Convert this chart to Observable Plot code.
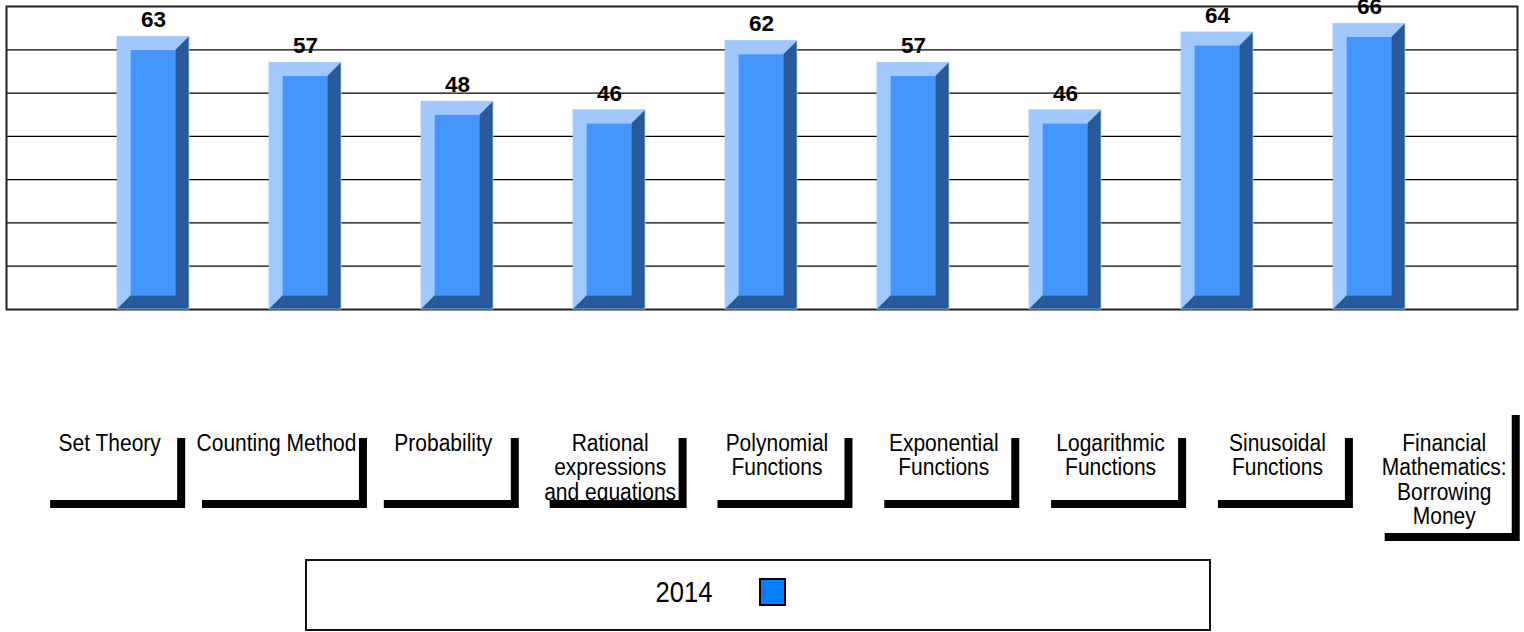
<!DOCTYPE html>
<html>
<head>
<meta charset="utf-8">
<script src="https://cdn.jsdelivr.net/npm/d3@7"></script>
<script src="https://cdn.jsdelivr.net/npm/@observablehq/plot@0.6"></script>
<style>
  html, body { margin: 0; padding: 0; background: #fff; }
  #chart svg { display: block; }
  #legend {
    position: relative; margin-left: 305px; margin-top: 14px;
    width: 906px; height: 72px; border: 2px solid #111; box-sizing: border-box;
    font-family: "Liberation Sans", Arial, sans-serif;
  }
  #legend .lab {
    position: absolute; left: 348px; top: 17px; font-size: 26px; line-height: 1;
    color: #000; transform: scale(0.985, 1.17); transform-origin: center;
  }
  #legend .sw {
    position: absolute; left: 452px; top: 17px; width: 27px; height: 28px;
    box-sizing: border-box; border: 2px solid #000; background: #0080ff;
  }
</style>
</head>
<body>
<div id="chart"></div>
<div id="legend"><span class="lab" id="legendLabel"></span><span class="sw"></span></div>
<script>
// ---- data ----
const categories = [
  "Set Theory",
  "Counting Method",
  "Probability",
  "Rational\nexpressions\nand equations",
  "Polynomial\nFunctions",
  "Exponential\nFunctions",
  "Logarithmic\nFunctions",
  "Sinusoidal\nFunctions",
  "Financial\nMathematics:\nBorrowing\nMoney"
];
const scores2014 = [63, 57, 48, 46, 62, 57, 46, 64, 66];
const seriesName = "2014";
const gridValues = [10, 20, 30, 40, 50, 60];
const yDomain = [0, 70];

const rows = categories.map((c, i) => ({cat: c, value: scores2014[i]}));

// ---- styles ----
const FONT = '"Liberation Sans", Arial, sans-serif';
const LIGHT = "#a0c8fc", FRONT = "#4595ff", DARK = "#285a9b";
const BEVEL = 13.7;

function bevelBars(index, scales, values, dims) {
  const g = d3.create("svg:g");
  const bw = scales.x.bandwidth();
  for (const i of index) {
    const d = rows[i];
    const x0 = scales.x(d.cat), x1 = x0 + bw;
    const y0 = scales.y(0), y1 = scales.y(d.value);
    const b = BEVEL;
    g.append("rect").attr("x", x0).attr("y", y1).attr("width", bw).attr("height", y0 - y1).attr("fill", LIGHT);
    g.append("path")
      .attr("d", `M${x0},${y0}L${x0 + b},${y0 - b}L${x1 - b},${y0 - b}L${x1 - b},${y1 + b}L${x1},${y1}L${x1},${y0}Z`)
      .attr("fill", DARK);
    g.append("rect").attr("x", x0 + b).attr("y", y1 + b).attr("width", bw - 2 * b)
      .attr("height", Math.max(0, y0 - y1 - 2 * b)).attr("fill", FRONT);
    g.append("rect").attr("x", x0).attr("y", y1).attr("width", bw).attr("height", y0 - y1)
      .attr("fill", "none").attr("stroke", LIGHT).attr("stroke-width", 0.8);
  }
  return g.node();
}

const LABEL_FS = 21;
function categoryLabels(index, scales, values, dims) {
  const g = d3.create("svg:g");
  const bw = scales.x.bandwidth();
  const mid = (dims.marginLeft + dims.width - dims.marginRight) / 2;
  const base = dims.height - dims.marginBottom;
  const ctx = document.createElement("canvas").getContext("2d");
  ctx.font = `${LABEL_FS}px ${FONT}`;
  for (const i of index) {
    const d = rows[i];
    const c = scales.x(d.cat) + bw / 2;
    const cx = mid + 16 + 1.0975 * (c - mid);
    const lines = d.cat.split("\n");
    const w = Math.max(135, d3.max(lines, l => ctx.measureText(l).width) + 5);
    const tall = lines.length >= 4;
    const top = base + (tall ? 98 : 121);
    const bottom = base + (tall ? 224 : 191);
    const left = cx - w / 2;
    g.append("rect").attr("x", left + 8).attr("y", top + 8).attr("width", w).attr("height", bottom - top).attr("fill", "#000");
    g.append("rect").attr("x", left).attr("y", top).attr("width", w).attr("height", bottom - top).attr("fill", "#fff");
    const t = g.append("text")
      .attr("transform", `translate(${cx},${base + 141.7}) scale(1,1.1)`)
      .attr("text-anchor", "middle")
      .attr("font-family", FONT)
      .attr("font-size", LABEL_FS)
      .attr("fill", "#000");
    lines.forEach((l, k) => t.append("tspan").attr("x", 0).attr("y", (24.5 * k) / 1.1).text(l));
  }
  return g.node();
}

const chart = Plot.plot({
  width: 1524,
  height: 545,
  marginTop: 6,
  marginLeft: 6,
  marginRight: 7,
  marginBottom: 236,
  style: {fontFamily: FONT, background: "#fff"},
  x: {domain: categories, paddingInner: 0.526, paddingOuter: 0.705, axis: null},
  y: {domain: yDomain, axis: null},
  marks: [
    Plot.ruleY(gridValues, {stroke: "#000", strokeWidth: 1.2}),
    Plot.frame({stroke: "#222", strokeWidth: 2}),
    Plot.barY(rows, {x: "cat", y: "value", render: bevelBars}),
    Plot.text(rows, {
      x: "cat", y: "value", text: d => String(d.value), dy: -17,
      fontSize: 22.5, fontWeight: "bold", fill: "#000", fontFamily: FONT
    }),
    Plot.text(rows, {x: "cat", text: "cat", frameAnchor: "bottom", render: categoryLabels})
  ]
});
document.getElementById("chart").append(chart);
document.getElementById("legendLabel").textContent = seriesName;
</script>
</body>
</html>
